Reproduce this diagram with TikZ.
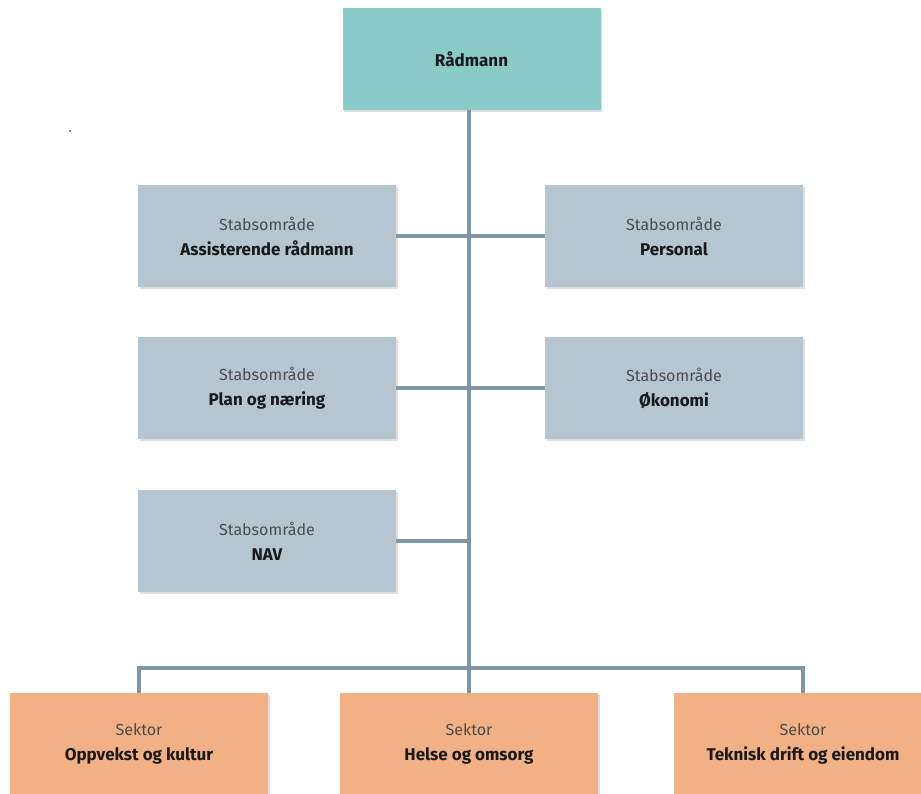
\documentclass[tikz,border=0pt]{standalone}
\usepackage{fontspec}
\setmainfont{Fira Sans}
\usetikzlibrary{shadows}
\definecolor{topteal}{HTML}{8ACBC8}
\definecolor{stabgray}{HTML}{B5C6D1}
\definecolor{sektororange}{HTML}{F2B184}
\definecolor{linjeblue}{HTML}{7E96A5}
\tikzset{
	boks/.style={minimum width=258pt, minimum height=102pt, inner sep=0pt,
		align=center, font=\fontsize{17}{25}\selectfont, text=black!90,
		drop shadow={opacity=0.25, shadow xshift=1.5pt, shadow yshift=-2pt}},
	toppboks/.style={boks, fill=topteal},
	stabboks/.style={boks, fill=stabgray},
	sektorboks/.style={boks, fill=sektororange},
	linje/.style={draw=linjeblue, line width=3.5pt}
}
\newcommand{\overtekst}[1]{{\color{black!70}\fontsize{16}{25}\selectfont#1}}
\begin{document}
\begin{tikzpicture}[x=1pt, y=-1pt]
	\useasboundingbox (0,0) rectangle (921,794);
	\node[toppboks] (radmann) at (471.5,59) {\textbf{Rådmann}};
	% stabsomraader
	\foreach \X/\Y/\N/\T in {267/236/assist/Assisterende rådmann, 674/236/personal/Personal,
		267/388/plan/Plan og næring, 674/388/okonomi/Økonomi, 267/541/nav/NAV}
	{\node[stabboks] (\N) at (\X,\Y) {\overtekst{Stabsområde}\\\textbf{\T}};}
	% sektorer
	\foreach \X/\N/\T in {139/oppvekst/Oppvekst og kultur, 469/helse/Helse og omsorg,
		803/teknisk/Teknisk drift og eiendom}
	{\node[sektorboks] (\N) at (\X,744) {\overtekst{Sektor}\\\textbf{\T}};}
	\coordinate (buss) at (469,668);
	\draw[linje] (radmann.south -| buss) -- (helse.north);
	\draw[linje] (assist.east) -- (personal.west);
	\draw[linje] (plan.east) -- (okonomi.west);
	\draw[linje] (nav.east) -- (nav.east -| buss);
	\draw[linje] (oppvekst.north) |- (buss) -| (teknisk.north);
	\fill[black!70] (70,131) circle (1pt);
\end{tikzpicture}
\end{document}
